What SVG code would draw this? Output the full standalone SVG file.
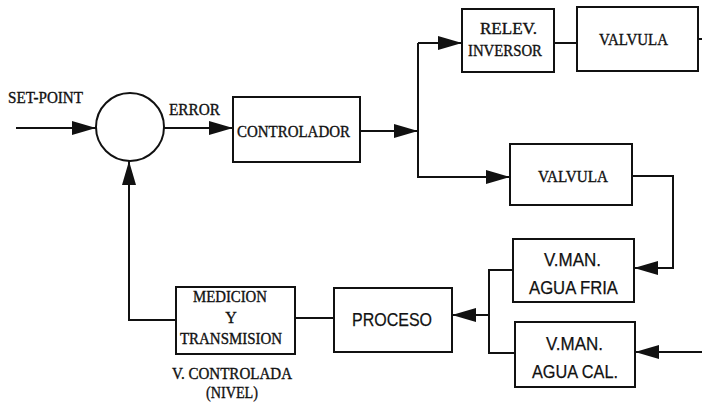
<svg xmlns="http://www.w3.org/2000/svg" width="702" height="402" viewBox="0 0 702 402">
  <style>
    .box { fill: #fff; stroke: #111; stroke-width: 2; }
    .wire { fill: none; stroke: #111; stroke-width: 2; }
    .serif { font-family: "Liberation Serif", "Times New Roman", serif; font-size: 16px; fill: #111; stroke: #111; stroke-width: 0.35; }
    .sans { font-family: "Liberation Sans", Arial, sans-serif; font-size: 19px; fill: #111; stroke: #111; stroke-width: 0.25; }
  </style>
  <defs>
    <marker id="arrow" markerWidth="24" markerHeight="14" refX="24" refY="7" orient="auto" markerUnits="userSpaceOnUse">
      <path d="M0,0 L24,7 L0,14 z" fill="#111"/>
    </marker>
  </defs>
  <rect width="702" height="402" fill="#fff"/>

  <!-- connectors -->
  <g id="connectors" class="wire">
    <path d="M16,128 H96" marker-end="url(#arrow)"/>
    <path d="M164,128 H233" marker-end="url(#arrow)"/>
    <path d="M360,131 H418" marker-end="url(#arrow)"/>
    <path d="M418,43 H462" marker-end="url(#arrow)"/>
    <path d="M418,43 V177 H510" marker-end="url(#arrow)"/>
    <path d="M554,43 H577"/>
    <path d="M698,39 H702"/>
    <path d="M632,176 H673 V268 H634" marker-end="url(#arrow)"/>
    <path d="M702,352 H635" marker-end="url(#arrow)"/>
    <path d="M513,270 H489 V353 H515"/>
    <path d="M489,315 H452" marker-end="url(#arrow)"/>
    <path d="M334,318 H295"/>
    <path d="M176,320 H129 V161" marker-end="url(#arrow)"/>
  </g>

  <!-- input label -->
  <text class="serif" x="8" y="103" textLength="75" lengthAdjust="spacingAndGlyphs">SET-POINT</text>

  <g id="sum">
    <circle cx="130" cy="127" r="34" class="box"/>
  </g>
  <text class="serif" x="169" y="115" textLength="51" lengthAdjust="spacingAndGlyphs">ERROR</text>

  <g id="controlador">
    <rect class="box" x="233" y="97" width="127" height="65"/>
    <text class="serif" x="237" y="137" textLength="113" lengthAdjust="spacingAndGlyphs">CONTROLADOR</text>
  </g>

  <g id="relevador">
    <rect class="box" x="462" y="9" width="92" height="63"/>
    <text class="serif" x="480" y="34" textLength="57" lengthAdjust="spacingAndGlyphs">RELEV.</text>
    <text class="serif" x="468" y="56" textLength="74" lengthAdjust="spacingAndGlyphs">INVERSOR</text>
  </g>

  <g id="valvula-1">
    <rect class="box" x="577" y="7" width="121" height="64"/>
    <text class="serif" x="599" y="45" textLength="69" lengthAdjust="spacingAndGlyphs">VALVULA</text>
  </g>

  <g id="valvula-2">
    <rect class="box" x="510" y="144" width="122" height="61"/>
    <text class="serif" x="538" y="182" textLength="70" lengthAdjust="spacingAndGlyphs">VALVULA</text>
  </g>

  <g id="vman-fria">
    <rect class="box" x="513" y="239" width="121" height="63"/>
    <text class="sans" x="544" y="266" textLength="57" lengthAdjust="spacingAndGlyphs">V.MAN.</text>
    <text class="sans" x="529" y="294" textLength="89" lengthAdjust="spacingAndGlyphs">AGUA FRIA</text>
  </g>

  <g id="vman-cal">
    <rect class="box" x="515" y="322" width="120" height="65"/>
    <text class="sans" x="546" y="350" textLength="57" lengthAdjust="spacingAndGlyphs">V.MAN.</text>
    <text class="sans" x="532" y="378" textLength="86" lengthAdjust="spacingAndGlyphs">AGUA CAL.</text>
  </g>

  <g id="proceso">
    <rect class="box" x="334" y="288" width="118" height="64"/>
    <text class="sans" x="352" y="326" textLength="80" lengthAdjust="spacingAndGlyphs">PROCESO</text>
  </g>

  <g id="medicion">
    <rect class="box" x="176" y="287" width="119" height="67"/>
    <text class="serif" x="193" y="302" textLength="74" lengthAdjust="spacingAndGlyphs">MEDICION</text>
    <text class="serif" x="231" y="323" text-anchor="middle">Y</text>
    <text class="serif" x="180" y="344" textLength="102" lengthAdjust="spacingAndGlyphs">TRANSMISION</text>
  </g>

  <text class="serif" x="172" y="379" textLength="120" lengthAdjust="spacingAndGlyphs">V. CONTROLADA</text>
  <text class="serif" x="206" y="398" textLength="52" lengthAdjust="spacingAndGlyphs">(NIVEL)</text>
</svg>
